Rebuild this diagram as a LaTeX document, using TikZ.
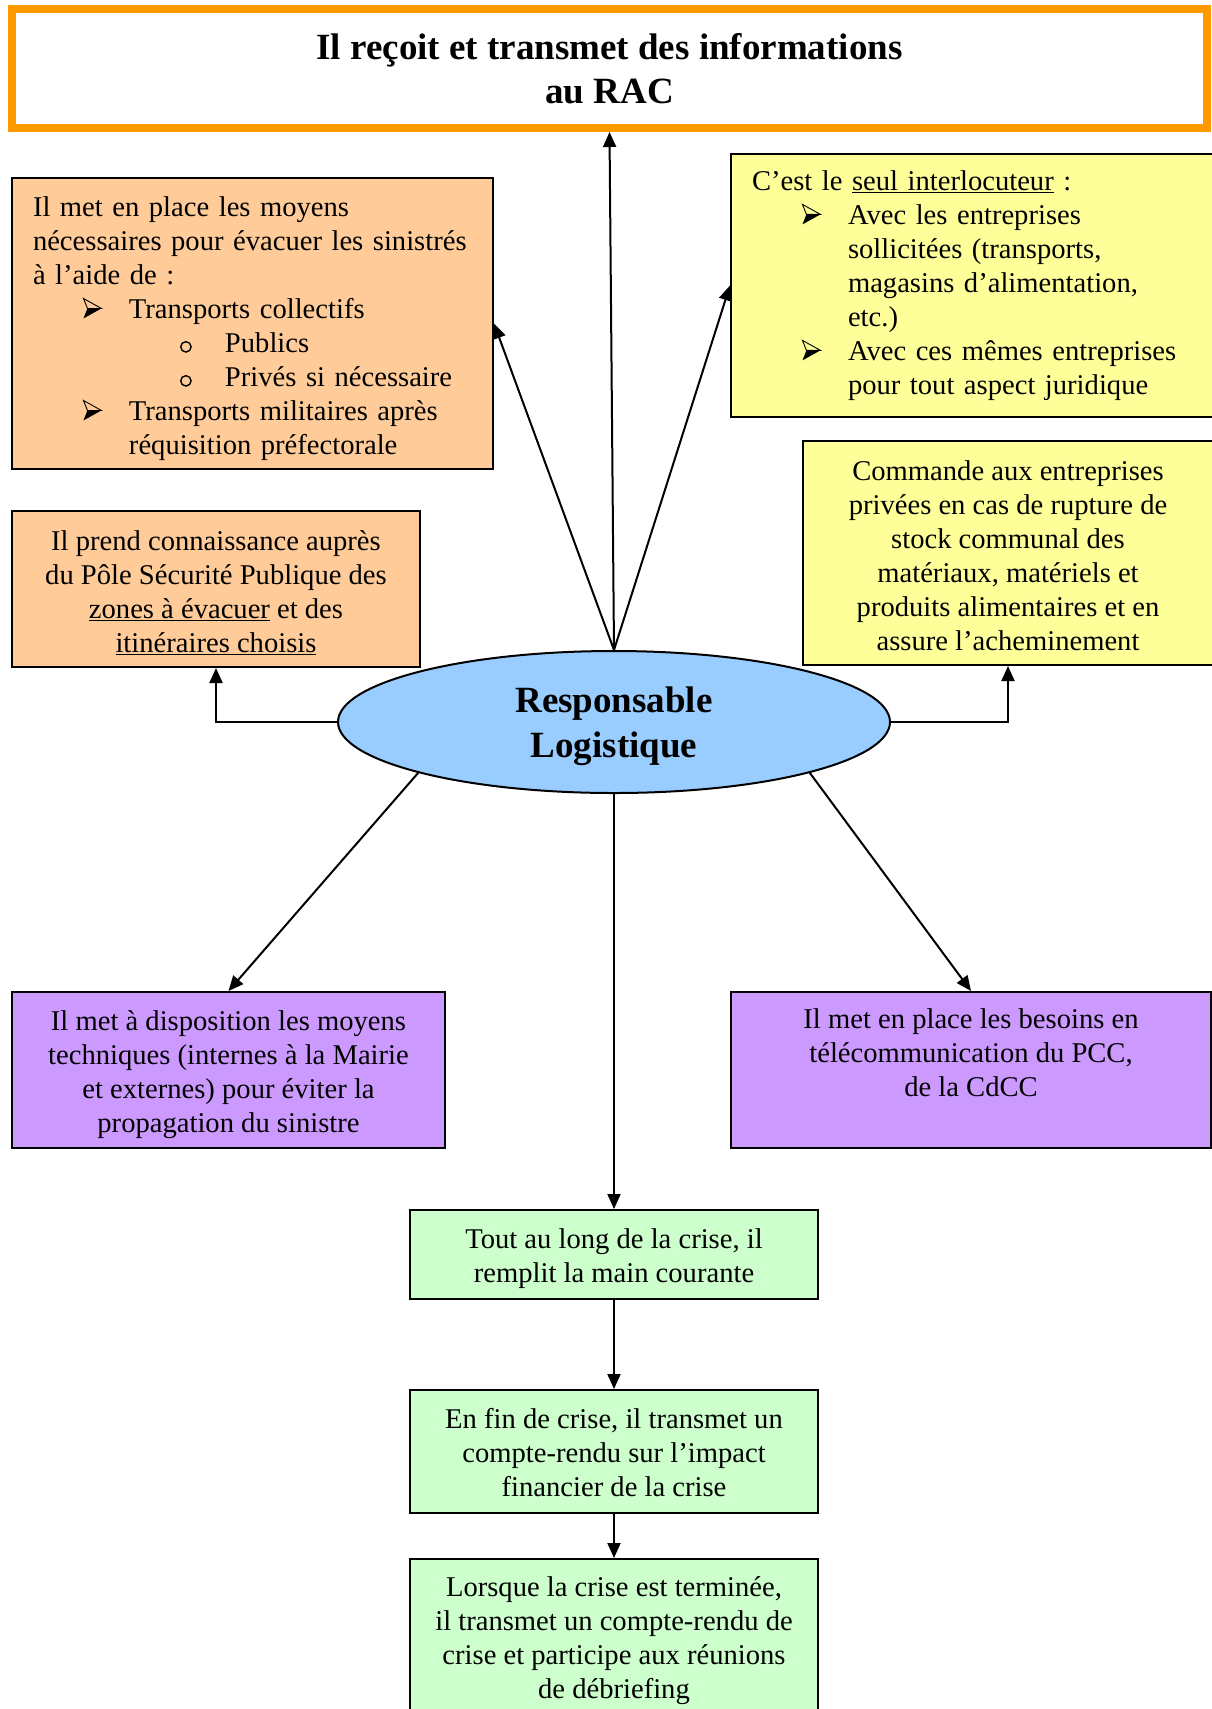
\documentclass[tikz,border=0pt]{standalone}
\usepackage{fontspec}
\setmainfont{Liberation Serif}
\usetikzlibrary{arrows.meta,shapes.geometric}

\definecolor{titleorange}{HTML}{FF9900}
\definecolor{peach}{HTML}{FFCC99}
\definecolor{paleyellow}{HTML}{FFFF99}
\definecolor{skyblue}{HTML}{99CCFF}
\definecolor{lavender}{HTML}{CC99FF}
\definecolor{mint}{HTML}{CCFFCC}

\newcommand\bodysize{\fontsize{28.6}{34}\selectfont}
% invisible strut that sets the height of a first line
\newcommand\toprule[1]{\rule{0pt}{#1}}
\newsavebox\arrowbullet
\newsavebox\circbullet
% list lines: first-level arrow bullet, second-level circle bullet, continuation
\newcommand\mainitem[1]{\mbox{\hspace*{50pt}\makebox[46pt][l]{\usebox\arrowbullet}#1}}
\newcommand\circitem[1]{\mbox{\hspace*{147pt}\makebox[45pt][l]{\usebox\circbullet}#1}}
\newcommand\contline[1]{\mbox{\hspace*{96pt}#1}}

\begin{document}
% bullet glyphs drawn with the basic layer: half-shaded arrowhead and open circle
\sbox\arrowbullet{\pgfpicture
  \pgfsetbaseline{0pt}%
  \pgfsetlinewidth{0.9pt}\pgfsetmiterjoin
  \pgfpathmoveto{\pgfpoint{0pt}{20pt}}\pgfpathlineto{\pgfpoint{18pt}{10pt}}%
  \pgfpathlineto{\pgfpoint{4pt}{10pt}}\pgfpathclose\pgfusepath{stroke}%
  \pgfpathmoveto{\pgfpoint{4pt}{10pt}}\pgfpathlineto{\pgfpoint{18pt}{10pt}}%
  \pgfpathlineto{\pgfpoint{0pt}{0pt}}\pgfpathclose\pgfusepath{fill}%
\endpgfpicture}
\sbox\circbullet{\pgfpicture
  \pgfsetbaseline{0pt}%
  \pgfsetlinewidth{1.4pt}%
  \pgfpathcircle{\pgfpoint{5.6pt}{5.6pt}}{5.2pt}\pgfusepath{stroke}%
\endpgfpicture}

\begin{tikzpicture}[x=1pt,y=-1pt,
  box/.style={draw=black, line width=2pt, rectangle, inner sep=0pt, font=\bodysize},
  conn/.style={line width=2pt, -{Triangle[length=15pt,width=13pt]}}]
\useasboundingbox (0,0) rectangle (1211,1709);

% header
\node[draw=titleorange, line width=8pt, fill=white, minimum width=1195pt, minimum height=119pt,
      inner sep=0pt, align=center, font=\bfseries\fontsize{37}{44}\selectfont]
  (title) at (609.5,68.5) {Il reçoit et transmet des informations\\au RAC};

% upper row
\node[box, fill=peach, minimum width=481pt, minimum height=291pt, text width=439pt, align=left]
  (evac) at (252.5,323.5) {\toprule{30pt}\mbox{Il met en place les moyens}\\
  \mbox{nécessaires pour évacuer les sinistrés}\\
  \mbox{à l’aide de :}\\
  \mainitem{Transports collectifs}\\
  \circitem{Publics}\\
  \circitem{Privés si nécessaire}\\
  \mainitem{Transports militaires après}\\
  \contline{réquisition préfectorale}};

\node[box, fill=paleyellow, minimum width=482pt, minimum height=263pt, text width=440pt, align=left]
  (contact) at (972,285.5) {\mbox{C’est le \underline{seul interlocuteur} :}\\
  \mainitem{Avec les entreprises}\\
  \contline{sollicitées (transports,}\\
  \contline{magasins d’alimentation,}\\
  \contline{etc.)}\\
  \mainitem{Avec ces mêmes entreprises}\\
  \contline{pour tout aspect juridique}};

% middle row
\node[box, fill=peach, minimum width=408pt, minimum height=156pt, align=center]
  (zones) at (216,589) {\toprule{27.6pt}Il prend connaissance auprès\\
  du Pôle Sécurité Publique des\\
  \underline{zones à évacuer} et des\\
  \underline{itinéraires choisis}};

\node[box, fill=paleyellow, minimum width=410pt, minimum height=224pt, align=center]
  (orders) at (1008,553) {\toprule{25.4pt}Commande aux entreprises\\
  privées en cas de rupture de\\
  stock communal des\\
  matériaux, matériels et\\
  produits alimentaires et en\\
  assure l’acheminement};

% central actor
\node[ellipse, draw=black, line width=2pt, fill=skyblue, minimum width=552pt, minimum height=142pt,
      inner sep=0pt, align=center, font=\bfseries\fontsize{37}{45}\selectfont]
  (resp) at (614,722) {\toprule{35pt}Responsable\\Logistique};

% lower row
\node[box, fill=lavender, minimum width=433pt, minimum height=156pt, align=center]
  (means) at (228.5,1070) {\toprule{28.8pt}Il met à disposition les moyens\\
  techniques (internes à la Mairie\\
  et externes) pour éviter la\\
  propagation du sinistre};

\node[box, fill=lavender, minimum width=480pt, minimum height=156pt, align=center]
  (telecom) at (971,1070) {Il met en place les besoins en\\
  télécommunication du PCC,\\
  de la CdCC\\
  ~};

% sequence of reports
\node[box, fill=mint, minimum width=408pt, minimum height=89pt, align=center]
  (log) at (614,1254.5) {\toprule{28.8pt}Tout au long de la crise, il\\
  remplit la main courante};

\node[box, fill=mint, minimum width=408pt, minimum height=123pt, align=center]
  (impact) at (614,1451.5) {\toprule{22.2pt}En fin de crise, il transmet un\\
  compte-rendu sur l’impact\\
  financier de la crise};

\node[box, fill=mint, minimum width=408pt, minimum height=157pt, align=center]
  (debrief) at (614,1637.5) {\toprule{26.6pt}Lorsque la crise est terminée,\\
  il transmet un compte-rendu de\\
  crise et participe aux réunions\\
  de débriefing};

% connectors
\draw[conn] (resp.north) -- (title.south);
\draw[conn] (resp.north) -- (evac.east);
\draw[conn] (resp.north) -- (contact.west);
\draw[conn] (resp.west) -| (zones.south);
\draw[conn] (resp.east) -| (orders.south);
\draw[conn] (resp.south west) -- (means.north);
\draw[conn] (resp.south east) -- (telecom.north);
\draw[conn] (resp.south) -- (log.north);
\draw[conn] (log.south) -- (impact.north);
\draw[conn] (impact.south) -- (debrief.north);
\end{tikzpicture}
\end{document}
